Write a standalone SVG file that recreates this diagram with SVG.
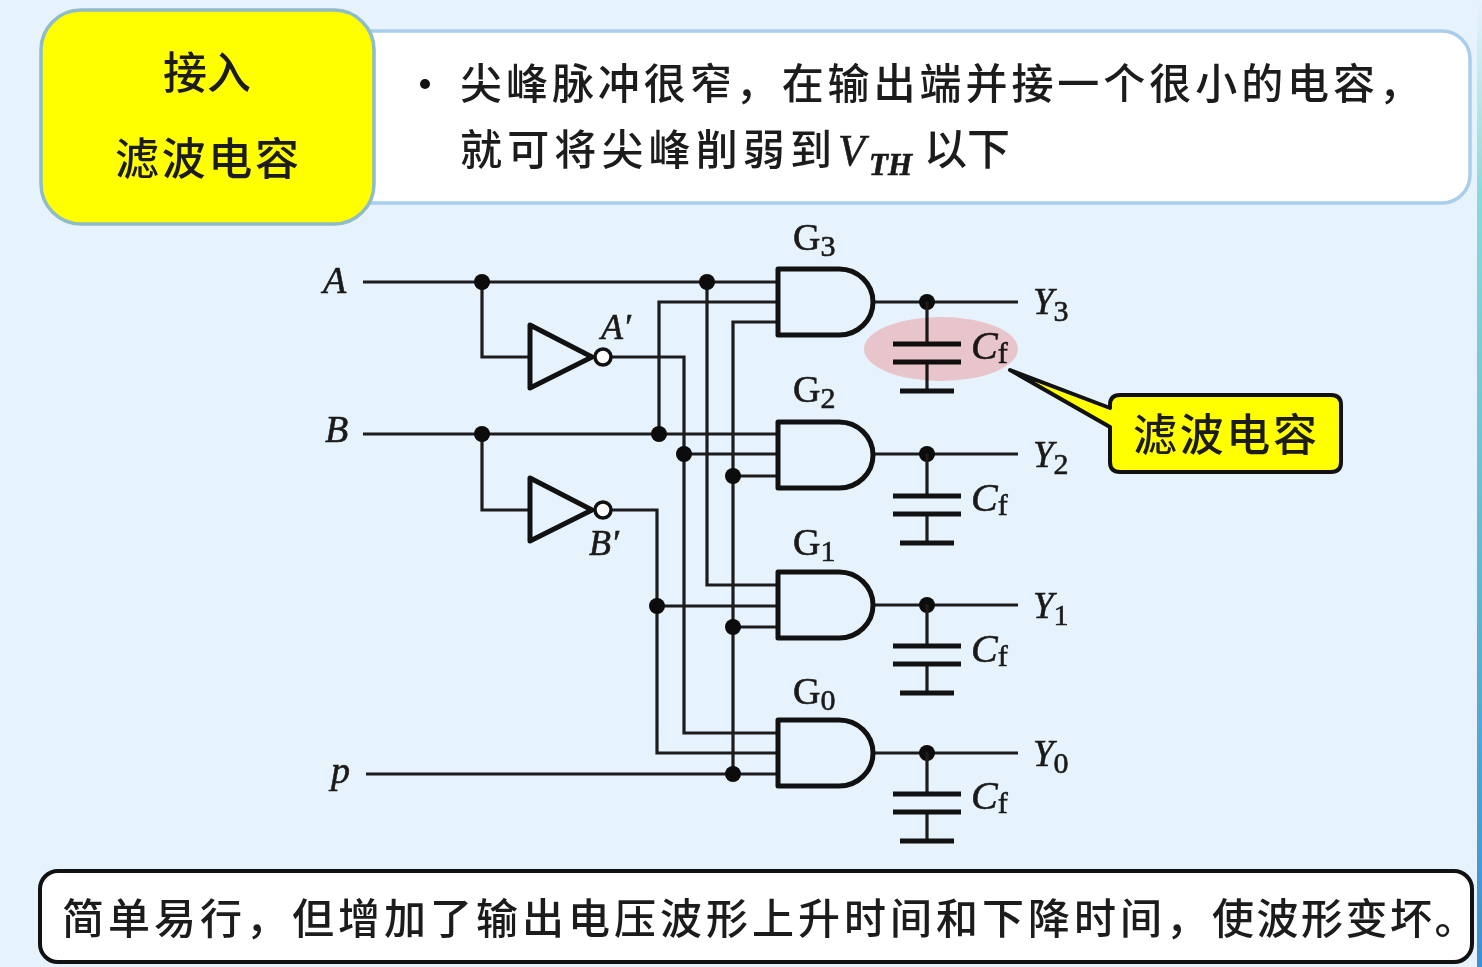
<svg xmlns="http://www.w3.org/2000/svg" width="1482" height="967" viewBox="0 0 1482 967">
<defs>
<style>
.cjk{font-family:"Noto Sans CJK SC","Liberation Serif",serif;fill:#1c1c1c;font-weight:500}
.tnr{font-family:"Liberation Serif",serif;fill:#1a1a1a;stroke:#1a1a1a;stroke-width:.6}
.it{font-style:italic}
.s{font-size:30px;font-style:normal}
.w{fill:none;stroke:#1c1c1c;stroke-width:3.2}
.g{fill:none;stroke:#111;stroke-width:5;stroke-linejoin:round}
.pl{fill:none;stroke:#111;stroke-width:5}
.d{fill:#0c0c0c}
</style>
<linearGradient id="edge" x1="0" y1="0" x2="0" y2="1">
<stop offset="0" stop-color="#e7f3fc"/><stop offset="0.2" stop-color="#8fd8d8"/><stop offset="1" stop-color="#3f8fd0"/>
</linearGradient>
<g id="and"><path class="g" d="M0 0H61A34 33 0 0 1 61 66H0Z"/></g>
<g id="cap"><path class="w" d="M0 0V42M0 60V90"/><path class="pl" d="M-34 42H34M-34 60H34M-27 89H27"/></g>
</defs>
<rect width="1482" height="967" fill="#e7f3fc"/>
<rect id="edge-strip" x="1477" y="0" width="5" height="967" fill="url(#edge)"/>
<g id="top-banner">
<rect x="330" y="31" width="1140" height="172" rx="28" fill="#fff" stroke="#a9cdec" stroke-width="3.5"/>
<circle cx="425" cy="84" r="5" fill="#111"/>
<text class="cjk" x="460" y="99" font-size="42" textLength="961">尖峰脉冲很窄，在输出端并接一个很小的电容，</text>
<text class="cjk" x="460" y="165" font-size="42" textLength="372">就可将尖峰削弱到</text>
<text class="tnr it" x="838" y="165" font-size="44">V</text>
<text class="tnr it" x="869" y="175" font-size="31" font-weight="bold">TH</text>
<text class="cjk" x="924" y="165" font-size="43">以下</text>
</g>
<g id="title-box">
<rect x="41" y="10" width="333" height="214" rx="40" fill="#ffff00" stroke="#8fbcc8" stroke-width="3.5"/>
<text class="cjk" x="207" y="89" font-size="44" text-anchor="middle">接入</text>
<text class="cjk" x="207" y="175" font-size="44" text-anchor="middle" textLength="184">滤波电容</text>
</g>
<g id="connectors">
<path class="w" d="M363 282H777M482 282V357H528M363 434H777M482 434V510H528M612 357H684V733H777M612 510H657V753H777M366 774H777M707 282V585H777M659 434V302H777M684 454H777M657 606H777M733 774V322H777M733 476H777M733 627H777"/>
<path class="w" d="M873 302H1018M873 454H1018M873 605H1018M873 753H1018"/>
<circle class="d" cx="482" cy="282" r="8"/><circle class="d" cx="707" cy="282" r="8"/>
<circle class="d" cx="482" cy="434" r="8"/><circle class="d" cx="659" cy="434" r="8"/>
<circle class="d" cx="684" cy="454" r="8"/><circle class="d" cx="733" cy="476" r="8"/>
<circle class="d" cx="657" cy="606" r="8"/><circle class="d" cx="733" cy="627" r="8"/>
<circle class="d" cx="733" cy="774" r="8"/>
<circle class="d" cx="927" cy="302" r="8"/><circle class="d" cx="927" cy="454" r="8"/>
<circle class="d" cx="927" cy="605" r="8"/><circle class="d" cx="927" cy="753" r="8"/>
</g>
<g id="inv-a"><path class="g" d="M530 325V388L592 357Z"/><circle cx="603" cy="357" r="8" fill="#fff" stroke="#111" stroke-width="3.5"/></g>
<g id="inv-b"><path class="g" d="M530 478V541L592 510Z"/><circle cx="603" cy="510" r="8" fill="#fff" stroke="#111" stroke-width="3.5"/></g>
<use id="g3" href="#and" x="778" y="269"/>
<use id="g2" href="#and" x="778" y="422"/>
<use id="g1" href="#and" x="778" y="572"/>
<use id="g0" href="#and" x="778" y="720"/>
<use id="c3" href="#cap" x="927" y="302"/>
<use id="c2" href="#cap" x="927" y="454"/>
<use id="c1" href="#cap" x="927" y="604"/>
<use id="c0" href="#cap" x="927" y="752"/>
<g id="labels">
<text class="tnr it" x="323" y="293" font-size="38">A</text>
<text class="tnr it" x="325" y="442" font-size="38">B</text>
<text class="tnr it" x="331" y="783" font-size="38">p</text>
<text class="tnr it" x="601" y="339" font-size="36">A′</text>
<text class="tnr it" x="589" y="555" font-size="36">B′</text>
<text class="tnr" x="793" y="250" font-size="38">G<tspan class="s" dy="6">3</tspan></text>
<text class="tnr" x="793" y="402" font-size="38">G<tspan class="s" dy="6">2</tspan></text>
<text class="tnr" x="793" y="555" font-size="38">G<tspan class="s" dy="6">1</tspan></text>
<text class="tnr" x="793" y="704" font-size="38">G<tspan class="s" dy="6">0</tspan></text>
<text class="tnr it" x="1033" y="314" font-size="37">Y<tspan class="s" dy="7">3</tspan></text>
<text class="tnr it" x="1033" y="467" font-size="37">Y<tspan class="s" dy="7">2</tspan></text>
<text class="tnr it" x="1033" y="618" font-size="37">Y<tspan class="s" dy="7">1</tspan></text>
<text class="tnr it" x="1033" y="766" font-size="37">Y<tspan class="s" dy="7">0</tspan></text>
<text class="tnr it" x="971" y="359" font-size="40">C<tspan class="s" dy="4">f</tspan></text>
<text class="tnr it" x="971" y="511" font-size="40">C<tspan class="s" dy="4">f</tspan></text>
<text class="tnr it" x="971" y="662" font-size="40">C<tspan class="s" dy="4">f</tspan></text>
<text class="tnr it" x="971" y="809" font-size="40">C<tspan class="s" dy="4">f</tspan></text>
</g>
<ellipse id="highlight" cx="941" cy="349" rx="77" ry="32" fill="#ffcfcd" style="mix-blend-mode:multiply"/>
<g id="callout">
<path d="M1010 370L1110 408V405Q1110 395 1120 395H1331Q1341 395 1341 405V462Q1341 472 1331 472H1120Q1110 472 1110 462V427Z" fill="#ffff00" stroke="#111" stroke-width="4" stroke-linejoin="round"/>
<text class="cjk" x="1225" y="451" font-size="44" text-anchor="middle" textLength="184">滤波电容</text>
</g>
<g id="bottom-note">
<rect x="40" y="871" width="1432" height="91" rx="18" fill="#fff" stroke="#111" stroke-width="4"/>
<text class="cjk" x="62" y="934" font-size="42" letter-spacing="4">简单易行，但增加了输出电压波形上升时间和下降时间，<tspan x="1212" letter-spacing="2.5">使波形变坏。</tspan></text>
</g>
</svg>
